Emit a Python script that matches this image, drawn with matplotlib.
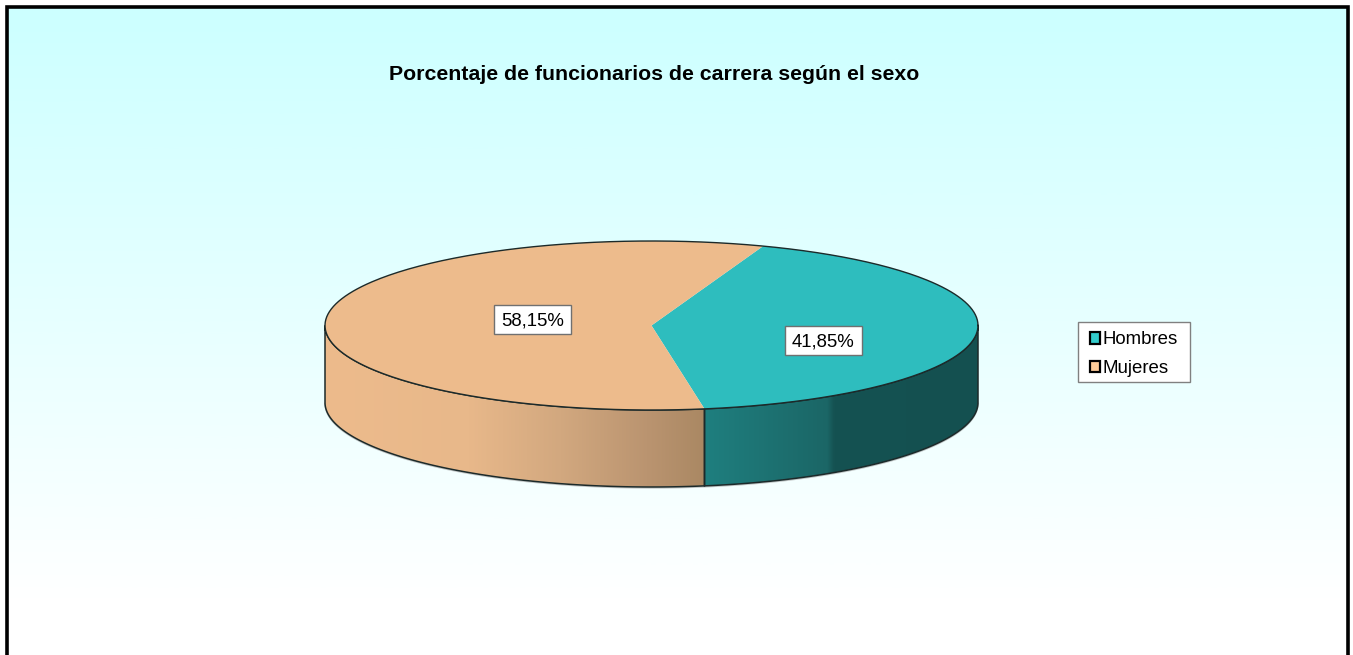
import numpy as np
import matplotlib
matplotlib.use('Agg')
import matplotlib.pyplot as plt
from matplotlib.colors import LinearSegmentedColormap
from matplotlib.patches import Polygon, Rectangle, Patch

plt.rcParams['font.family'] = ['Liberation Sans', 'DejaVu Sans']

title = 'Porcentaje de funcionarios de carrera según el sexo'
categories = ['Hombres', 'Mujeres']
values = [41.85, 58.15]
labels = ['41,85%', '58,15%']
top_colors = ['#2EBDBE', '#EDBB8C']
legend_colors = ['#33CCCC', '#FFCC99']

W, H = 1353, 655
cx, cy, rx, ry = 651.5, 325.5, 326.5, 84.5
depth = 77
start = 70.0


def ell(t, dy=0):
    t = np.radians(t)
    return np.column_stack([cx + rx*np.cos(t), cy - ry*np.sin(t) + dy])


fig = plt.figure(figsize=(W/100, H/100), dpi=100, facecolor='white')
ax = fig.add_axes([0, 0, 1, 1])
ax.axis('off')

# background gradient inside the frame
bg = LinearSegmentedColormap.from_list('bg', ['#CCFFFF', '#FFFFFF'])
grad = np.clip((np.arange(8, 656)-8)/592., 0, 1).reshape(-1, 1)
ax.imshow(grad, cmap=bg, vmin=0, vmax=1, extent=(7, 1348, 656, 7), aspect='auto', zorder=0)
ax.plot([7, 7, 1348, 1348], [656, 6.5, 6.5, 656], color='black', lw=2.6, solid_joinstyle='miter', zorder=1)

# slice angles, clockwise from the start angle
span = np.array(values)/sum(values)*360.
a_h = (start, start-span[0])
a_m = (start, start+span[1])

# side walls with horizontal shading
side_m = np.linspace(180, a_m[1], 150)
side_h = np.linspace(a_h[1], 0, 100)
pts_m = np.vstack([ell(side_m), ell(side_m, depth)[::-1]])
pts_h = np.vstack([ell(side_h), ell(side_h, depth)[::-1]])
x0 = ell(np.array([a_h[1]]))[0, 0]

cm_m = LinearSegmentedColormap.from_list('m', [(0, '#EDBB8C'), (0.38, '#E8B88A'), (0.62, '#D2A87F'), (0.85, '#BA9470'), (1, '#AA8863')])
cm_h = LinearSegmentedColormap.from_list('h', [(0, '#1F7F7F'), (0.45, '#1B6666'), (0.475, '#155252'), (1, '#145050')])

for pts, cm, ext in [(pts_m, cm_m, (cx-rx, x0)), (pts_h, cm_h, (x0, cx+rx))]:
    poly = Polygon(pts, closed=True, facecolor='none', edgecolor='none', transform=ax.transData)
    ax.add_patch(poly)
    im = ax.imshow(np.linspace(0, 1, 256).reshape(1, -1), cmap=cm, extent=(ext[0], ext[1], 500, 230),
                   aspect='auto', zorder=2)
    im.set_clip_path(poly)
    ax.add_patch(Polygon(pts, closed=True, facecolor='none', edgecolor='#1C2A2A', lw=1.1, zorder=3))

# soft shadow under the lower rim
rim = ell(np.linspace(180, 360, 200), depth+1)
ax.plot(rim[:, 0], rim[:, 1], color='#A0A0A0', lw=1.0, alpha=0.6, zorder=1.5)

# top faces
for (a, b), col in zip([a_h, a_m], top_colors):
    arc = ell(np.linspace(a, b, 200))
    pts = np.vstack([[cx, cy], arc])
    ax.add_patch(Polygon(pts, closed=True, facecolor=col, edgecolor='none', zorder=4))
rim_top = ell(np.linspace(0, 360, 400))
ax.plot(rim_top[:, 0], rim_top[:, 1], color='#1C2A2A', lw=1.0, zorder=5)

ax.text(654.5, 74.5, title, fontsize=15.3, fontweight='bold', ha='center', va='center', color='black', zorder=6)

label_pos = [(823.5, 340.5), (532.5, 319)]
for (lx, ly), s in zip(label_pos, labels):
    ax.add_patch(Rectangle((lx-38.5, ly-14.5), 77, 29, facecolor='white', edgecolor='#707070', lw=1, zorder=6))
    ax.text(lx, ly+1.5, s, fontsize=13.4, ha='center', va='center', color='black', zorder=7)

# legend box drawn separately, the entries go in through ax.legend
ax.add_patch(Rectangle((1078, 322), 112, 60, facecolor='white', edgecolor='#808080', lw=1, zorder=6))
handles = [Patch(facecolor=c, edgecolor='black', lw=1.6, label=n) for c, n in zip(legend_colors, categories)]
leg = ax.legend(handles=handles, loc='upper left', bbox_to_anchor=(1089.5, 331.5), bbox_transform=ax.transData,
                prop={'size': 13.4}, frameon=False, borderaxespad=0, borderpad=0, handlelength=0.55, handleheight=0.55,
                handletextpad=0.15, labelspacing=0.62)
leg.set_zorder(7)

ax.set_xlim(0, W)
ax.set_ylim(H, 0)
fig.savefig('out.png', dpi=100, facecolor='white')
